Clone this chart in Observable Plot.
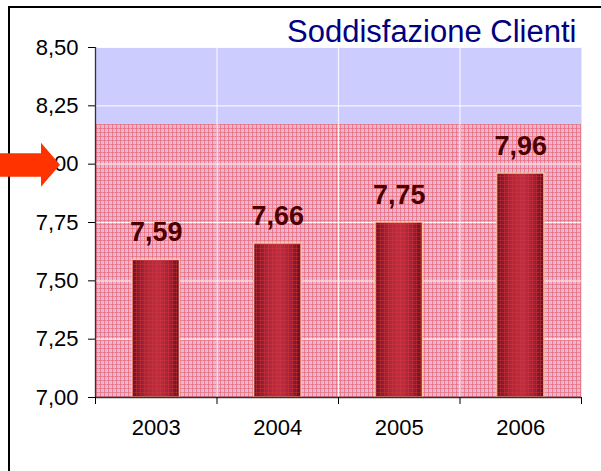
<!DOCTYPE html>
<html>
<head>
<meta charset="utf-8">
<script src="https://cdn.jsdelivr.net/npm/d3@7"></script>
<script src="https://cdn.jsdelivr.net/npm/@observablehq/plot@0.6"></script>
<style>
  html, body { margin: 0; padding: 0; background: white; width: 601px; height: 471px; overflow: hidden; }
  #frame { position: absolute; left: 8px; top: 6px; width: 640px; height: 520px; border-top: 2px solid #000; border-left: 2px solid #000; }
  #chart { position: absolute; left: 0; top: 0; }
</style>
</head>
<body>
<div id="frame"></div>
<div id="chart"></div>
<script>
const years = ["2003", "2004", "2005", "2006"];
const scores = [7.59, 7.66, 7.75, 7.96];
const yTicks = [7.00, 7.25, 7.50, 7.75, 8.00, 8.25, 8.50];
const yDomain = [7.00, 8.50];
const hatchTop = [8.17];
const pointerValue = 8.00;
const title = "Soddisfazione Clienti";

const fmt = d3.format(".2f");
const itFmt = v => fmt(v).replace(".", ",");
const barGap = 0.305;

const data = years.map((year, i) => ({year, i, score: scores[i]}));
const boundaries = d3.range(years.length + 1);
const centers = years.map((_, i) => i + 0.5);

const plot = Plot.plot({
  width: 601,
  height: 471,
  marginLeft: 95,
  marginRight: 20,
  marginTop: 47,
  marginBottom: 74,
  x: {domain: [0, years.length], axis: null, label: null},
  y: {domain: yDomain, axis: null, label: null},
  style: {fontFamily: "Arial, 'Liberation Sans', sans-serif", fontSize: "22px", background: "transparent", overflow: "visible", color: "#000"},
  marks: [
    Plot.frame({fill: "#ccccff", stroke: "none"}),
    Plot.rect(hatchTop.map(t => ({y1: yDomain[0], y2: t})), {y1: "y1", y2: "y2", fill: "url(#hatch)"}),
    Plot.ruleY(yTicks.slice(1), {stroke: "white", strokeOpacity: 0.8, strokeWidth: 1.2}),
    Plot.ruleX(boundaries.slice(1, -1), {stroke: "white", strokeOpacity: 0.8, strokeWidth: 1.2}),
    Plot.rectY(data, {x1: d => d.i + barGap, x2: d => d.i + 1 - barGap, y1: yDomain[0], y2: "score", fill: "url(#barGrad)", stroke: "#f7c9a5", strokeWidth: 1.5}),
    Plot.rectY(data, {x1: d => d.i + barGap, x2: d => d.i + 1 - barGap, y1: yDomain[0], y2: "score", fill: "url(#barPlaid)"}),
    Plot.ruleX([0], {stroke: "#333", strokeWidth: 1.3}),
    Plot.ruleY([yDomain[0]], {stroke: "#333", strokeWidth: 1.3}),
    Plot.axisY({ticks: yTicks, tickFormat: itFmt, tickSize: 7, tickPadding: 10, fontSize: 22}),
    Plot.axisX({ticks: boundaries, tickFormat: () => "", tickSize: 7}),
    Plot.axisX({ticks: centers, tickFormat: d => years[Math.floor(d)], tickSize: 0, tickPadding: 22, fontSize: 22}),
    Plot.text(data, {x: d => d.i + 0.5, y: "score", text: d => itFmt(d.score), dy: -19, lineAnchor: "bottom", fontWeight: "bold", fontSize: 27, fill: "#4d0000"}),
    Plot.text([title], {frameAnchor: "top-right", dx: -5, dy: -6, lineAnchor: "bottom", textAnchor: "end", fontSize: 31, fill: "#000080"})
  ]
});

const svg = d3.select(plot);
const defs = svg.insert("defs", ":first-child");

// background plaid
const hatch = defs.append("pattern").attr("id", "hatch").attr("patternUnits", "userSpaceOnUse").attr("width", 4).attr("height", 4);
hatch.append("rect").attr("width", 4).attr("height", 4).attr("fill", "#d4c0ee");
hatch.append("rect").attr("width", 4).attr("height", 1).attr("fill", "#f06c78").attr("opacity", 0.8);
hatch.append("rect").attr("width", 1).attr("height", 4).attr("fill", "#f06c78").attr("opacity", 0.8);
hatch.append("rect").attr("x", 2).attr("width", 1).attr("height", 4).attr("fill", "#eca4b8").attr("opacity", 0.5);

// bar gradient
const grad = defs.append("linearGradient").attr("id", "barGrad").attr("x1", 0).attr("x2", 1).attr("y1", 0).attr("y2", 0);
[["0%", "#6a1222"], ["30%", "#a8283e"], ["55%", "#b82f48"], ["80%", "#9a2238"], ["100%", "#5e0e1c"]]
  .forEach(([o, c]) => grad.append("stop").attr("offset", o).attr("stop-color", c));

// bar plaid texture
const bp = defs.append("pattern").attr("id", "barPlaid").attr("patternUnits", "userSpaceOnUse").attr("width", 4).attr("height", 4);
bp.append("rect").attr("width", 4).attr("height", 1).attr("fill", "#e03a3a").attr("opacity", 0.35);
bp.append("rect").attr("width", 1).attr("height", 4).attr("fill", "#e03a3a").attr("opacity", 0.35);

// arrow pointing at the 8,00 level
const yS = plot.scale("y");
const ya = yS.apply(pointerValue) + 1;
svg.append("polygon")
  .attr("points", [
    [-2, ya - 11.5], [41, ya - 11.5], [41, ya - 22], [60, ya], [41, ya + 22], [41, ya + 12], [-2, ya + 12]
  ].map(p => p.join(",")).join(" "))
  .attr("fill", "#ff3300");

document.getElementById("chart").appendChild(plot);
</script>
</body>
</html>
